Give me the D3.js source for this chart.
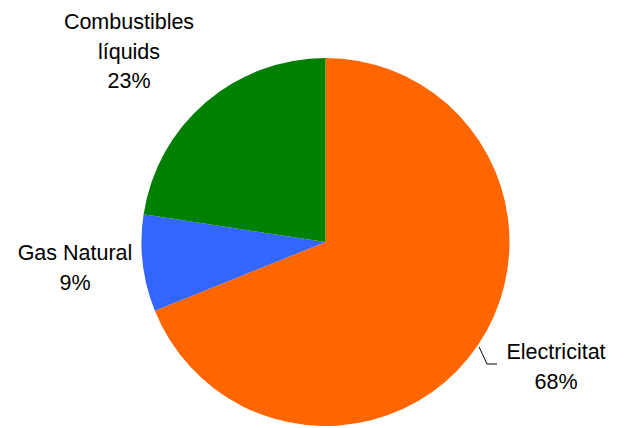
<!DOCTYPE html>
<html><head><meta charset="utf-8">
<script src="https://cdn.jsdelivr.net/npm/d3@7"></script>
<style>body{margin:0;background:#fff}svg{display:block}</style>
</head><body>
<svg id="c" width="627" height="428"></svg>
<script>
const categories = ["Electricitat", "Gas Natural", "Combustibles líquids"];
const values = [68.9, 8.5, 22.6];
const percentLabels = ["68%", "9%", "23%"];
const colors = ["#FF6600", "#3366FF", "#008000"];
const labelLines = [["Electricitat"], ["Gas Natural"], ["Combustibles", "líquids"]];

const svg = d3.select("#c");
const cx = 325.5, cy = 242, r = 184;
const g = svg.append("g").attr("transform", `translate(${cx},${cy})`);
const pie = d3.pie().sort(null).value(d => d)(values);
const arc = d3.arc().innerRadius(0).outerRadius(r);
g.selectAll("path").data(pie).join("path")
  .attr("d", arc).attr("fill", (d, i) => colors[i]);

// label positions (center x, first baseline)
const labelPos = [[556, 359], [75, 260], [129, 29]];
const fs = 21.5, lh = 29.5;
pie.forEach((d, i) => {
  const lines = labelLines[i].concat([percentLabels[i]]);
  const t = svg.append("text").attr("text-anchor", "middle")
    .attr("font-family", "Liberation Sans, Arial, sans-serif")
    .attr("font-size", fs).attr("fill", "#000");
  lines.forEach((s, k) => t.append("tspan").attr("x", labelPos[i][0])
    .attr("y", labelPos[i][1] + k * lh).text(s));
});

// leader line for Electricitat
const ang = 2.17;
const p0 = [cx + Math.sin(ang) * (r + 2), cy - Math.cos(ang) * (r + 2)];
svg.append("path")
  .attr("d", d3.line()([p0, [487, 364], [497, 364]]))
  .attr("fill", "none").attr("stroke", "#000").attr("stroke-width", 1);
</script>
</body></html>
